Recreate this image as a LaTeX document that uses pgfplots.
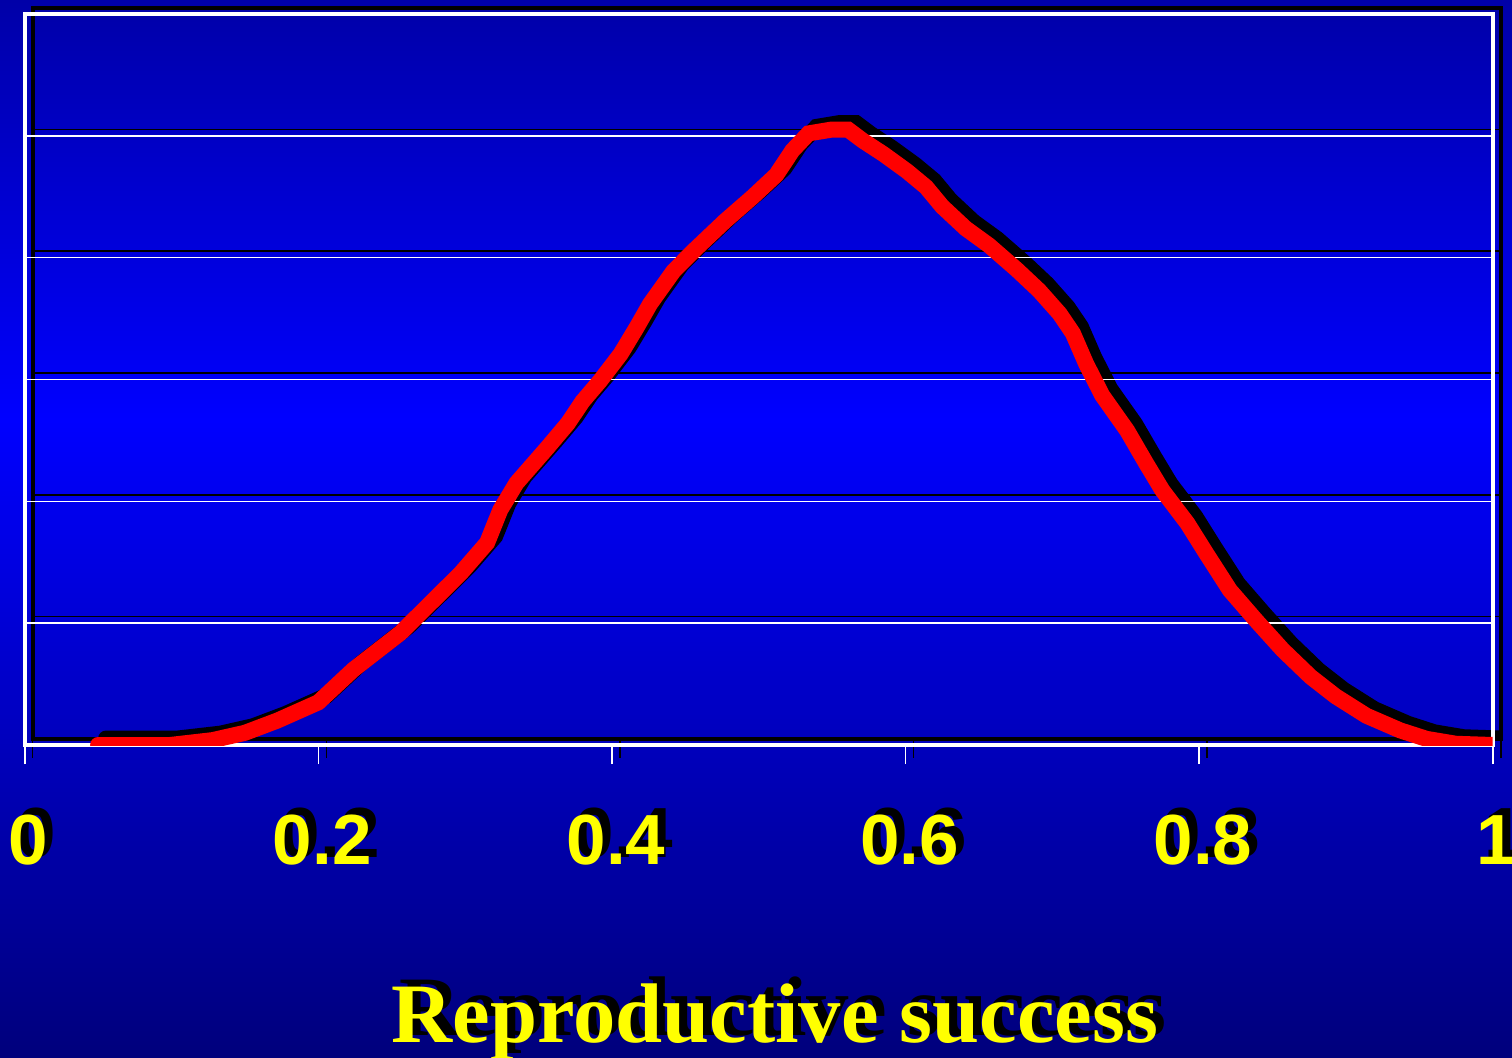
\documentclass[border=0pt]{standalone}
\usepackage{fontspec}
\setmainfont{Liberation Serif}
\setsansfont{Liberation Sans}
\usepackage{pgfplots}
\usepackage{pgfplotstable}
\pgfplotsset{compat=1.18}
\definecolor{bgtop}{HTML}{0000A8}
\definecolor{bgmid}{HTML}{0000FF}
\definecolor{bgbot}{HTML}{00007C}
\definecolor{lbl}{HTML}{FFFF00}
\definecolor{curve}{HTML}{FF0000}

\pgfplotstableread{
x y
0.050 0
0.099 0
0.128 0.04
0.150 0.10
0.172 0.20
0.200 0.35
0.224 0.62
0.256 0.92
0.297 1.41
0.315 1.66
0.324 1.93
0.335 2.15
0.356 2.44
0.370 2.64
0.380 2.82
0.392 2.99
0.406 3.21
0.417 3.43
0.426 3.62
0.442 3.89
0.456 4.06
0.477 4.30
0.496 4.50
0.512 4.68
0.523 4.88
0.534 5.02
0.549 5.05
0.561 5.05
0.571 4.96
0.585 4.85
0.601 4.71
0.614 4.58
0.625 4.42
0.641 4.24
0.657 4.10
0.676 3.90
0.691 3.73
0.705 3.54
0.714 3.38
0.723 3.13
0.734 2.87
0.751 2.58
0.764 2.31
0.775 2.09
0.792 1.82
0.805 1.57
0.821 1.27
0.839 1.02
0.857 0.78
0.876 0.56
0.893 0.40
0.914 0.24
0.937 0.12
0.955 0.05
0.975 0.01
1.000 0
}\rstable

% common look of the slide axis; drawn twice (black shadow, then colours)
\pgfplotsset{slide/.style={
  scale only axis, width=734pt, height=365.5pt,
  anchor=south west,
  xmin=0, xmax=1, ymin=0, ymax=6,
  xtick={0,0.2,0.4,0.6,0.8,1}, xticklabels={0,0.2,0.4,0.6,0.8,1},
  ytick={1,2,3,4,5}, yticklabels={},
  ymajorgrids, xtick pos=bottom, ytick pos=left,
  tick align=outside, major tick length=9.5pt,
  ytick style={draw=none},
  axis line style={line width=2pt},
  major grid style={line width=0.75pt},
  xtick style={line width=0.8pt},
  xticklabel style={font=\fontsize{35.5}{36}\selectfont\sffamily\bfseries,
    anchor=base, yshift=-50pt, xshift=2pt},
  xlabel={Reproductive success},
  xlabel style={at={(axis description cs:0.511,0)}, anchor=base, yshift=-148.5pt,
    font=\fontsize{42.3}{42}\selectfont\bfseries},
}}

\begin{document}
\begin{tikzpicture}
\useasboundingbox (-12.35pt,-156pt) rectangle (743.65pt,372.5pt);
\shade[top color=bgtop, bottom color=bgmid] (-12.35pt,162.5pt) rectangle (743.65pt,372.5pt);
\shade[top color=bgmid, bottom color=bgbot] (-12.35pt,-156pt) rectangle (743.65pt,162.6pt);

% shadow
\begin{axis}[slide, at={(4pt,3.25pt)},
  axis line style={black}, major grid style={black}, xtick style={black},
  xticklabel style={text=black}, xlabel style={text=black}]
\addplot[black, line width=8pt, line cap=round] table {\rstable};
\end{axis}

% colours
\begin{axis}[slide, at={(0pt,0pt)},
  axis line style={white}, major grid style={white}, xtick style={white},
  xticklabel style={text=lbl}, xlabel style={text=lbl}]
\addplot[curve, line width=8pt, line cap=round] table {\rstable};
\end{axis}
\end{tikzpicture}
\end{document}
